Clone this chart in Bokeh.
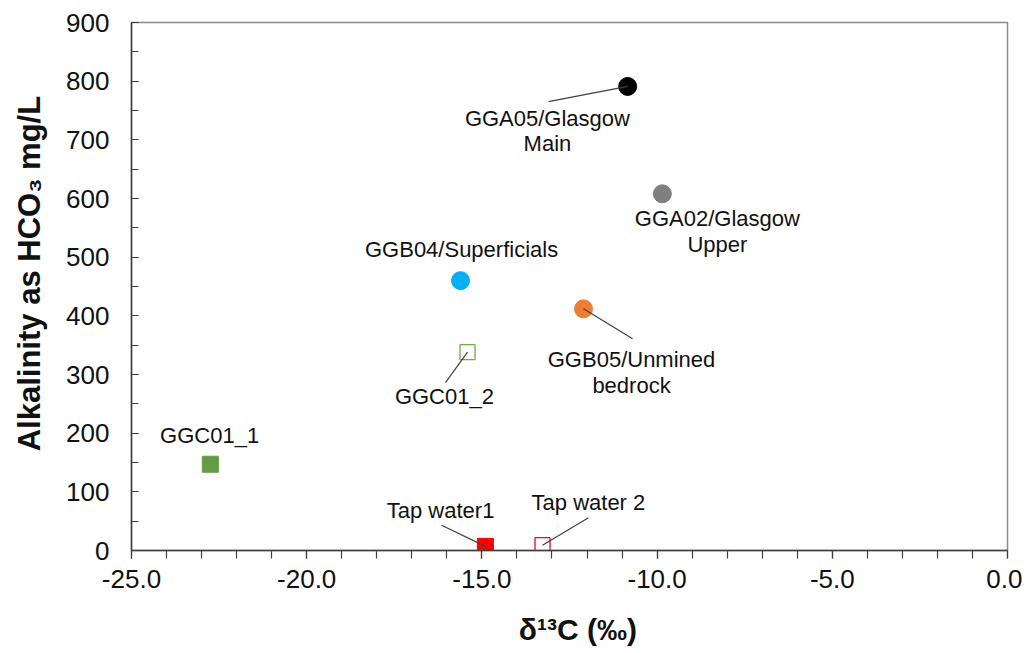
from bokeh.plotting import figure
from bokeh.models import Range1d, SingleIntervalTicker, NumeralTickFormatter, ColumnDataSource
from bokeh.core.properties import value
from bokeh.embed import file_html
from bokeh.resources import INLINE

# ---- data ----
names = ["GGA05/Glasgow Main", "GGA02/Glasgow Upper", "GGB04/Superficials",
         "GGB05/Unmined bedrock", "GGC01_2", "GGC01_1", "Tap water1", "Tap water 2"]
d13c = [-10.84, -9.85, -15.61, -12.10, -15.41, -22.75, -14.90, -13.27]
alk = [791, 608, 460, 412, 338, 147, 7, 9]
colors = ["#000000", "#7f7f7f", "#00b0f0", "#ed7d31", "#70ad47", "#629d44", "#ff0000", "#ff0000"]
markers = ["circle", "circle", "circle", "circle", "square", "square", "square", "square"]
filled = [True, True, True, True, False, True, True, False]

# annotation text (data coordinates)
label_text = ["GGA05/Glasgow", "Main", "GGA02/Glasgow", "Upper", "GGB04/Superficials",
              "GGB05/Unmined", "bedrock", "GGC01_2", "GGC01_1", "Tap water1", "Tap water 2"]
label_x = [-13.13, -13.13, -8.28, -8.28, -15.58, -10.73, -10.73, -16.07, -22.77, -16.18, -11.96]
label_y = [736, 694, 566, 522, 513, 326, 281, 262, 196, 68, 82]

# leader lines: from point index to end
lead_idx = [0, 3, 4, 6, 7]
lead_x1 = [-13.10, -10.70, -16.04, -16.15, -11.96]
lead_y1 = [765, 361, 286, 43, 56]

x_ticks_interval = 5
y_ticks_interval = 100

FONT = "Liberation Sans"

p = figure(frame_width=876, frame_height=528,
           min_border_left=131, min_border_right=15, min_border_top=22, min_border_bottom=96,
           x_range=Range1d(-25, 0), y_range=Range1d(0, 900),
           output_backend="svg", toolbar_location=None)
p.grid.visible = False
p.background_fill_color = "white"
p.outline_line_color = "#8c8c8c"
p.outline_line_width = 1.5

# markers
for i in range(len(names)):
    if markers[i] == "circle":
        p.scatter([d13c[i]], [alk[i]], marker="circle", size=18,
                  fill_color=colors[i], line_color=colors[i])
    else:
        if filled[i]:
            p.scatter([d13c[i]], [alk[i]], marker="square", size=16,
                      fill_color=colors[i], line_color=colors[i])
        else:
            p.scatter([d13c[i]], [alk[i]], marker="square", size=15,
                      fill_color=None, line_color=colors[i], line_width=1.3)

# leader lines
p.segment(x0=[d13c[i] for i in lead_idx], y0=[alk[i] for i in lead_idx],
          x1=lead_x1, y1=lead_y1, line_color="#404040", line_width=1.2)

# labels
src = ColumnDataSource(dict(x=label_x, y=label_y, t=label_text))
p.text(x="x", y="y", text="t", source=src, text_align="center", text_baseline="middle",
       text_font=value(FONT), text_font_size="22px", text_color="#111111")

# axes
xa = p.xaxis[0]
xa.ticker = SingleIntervalTicker(interval=x_ticks_interval, num_minor_ticks=5)
xa.formatter = NumeralTickFormatter(format="0.0")
xa.major_tick_in = 0
xa.major_tick_out = 8
xa.minor_tick_in = 0
xa.minor_tick_out = 8
xa.axis_label = "\u00a0\u00a0δ¹³C (‰)"

ya = p.yaxis[0]
ya.ticker = SingleIntervalTicker(interval=y_ticks_interval, num_minor_ticks=2)
ya.major_tick_in = 7
ya.major_tick_out = 0
ya.minor_tick_in = 7
ya.minor_tick_out = 0
ya.axis_label = "\u00a0\u00a0\u00a0Alkalinity as HCO₃ mg/L"

for ax in (xa, ya):
    ax.axis_line_color = "#404040"
    ax.axis_line_width = 1.5
    ax.major_tick_line_color = "#404040"
    ax.minor_tick_line_color = "#404040"
    ax.major_tick_line_width = 1.2
    ax.minor_tick_line_width = 1.2
    ax.major_label_text_font = FONT
    ax.major_label_text_font_size = "26px"
    ax.major_label_text_color = "#111111"
    ax.axis_label_text_font = FONT
    ax.axis_label_text_font_style = "bold"
    ax.axis_label_text_color = "#111111"

xa.major_label_standoff = 11
xa.axis_label_standoff = 22
xa.axis_label_text_font_size = "30px"
ya.major_label_standoff = 22
ya.axis_label_standoff = 16
ya.axis_label_text_font_size = "31px"

open("out.html", "w").write(file_html(p, INLINE))
